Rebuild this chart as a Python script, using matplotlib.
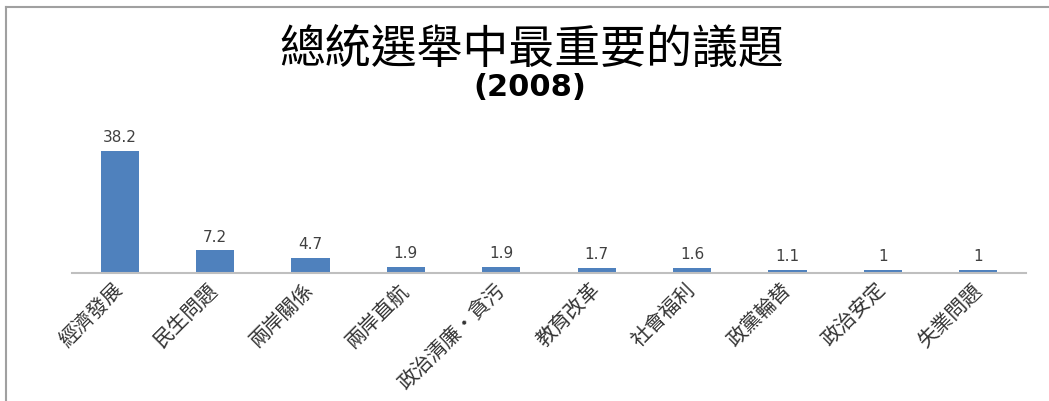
import matplotlib
matplotlib.use("Agg")
import matplotlib.pyplot as plt
from matplotlib.lines import Line2D

plt.rcParams['font.family'] = ['Noto Sans CJK TC', 'DejaVu Sans']

# data
issues = ['經濟發展', '民生問題', '兩岸關係', '兩岸直航', '政治清廉・貪污',
          '教育改革', '社會福利', '政黨輪替', '政治安定', '失業問題']
share = [38.2, 7.2, 4.7, 1.9, 1.9, 1.7, 1.6, 1.1, 1, 1]
value_labels = ['38.2', '7.2', '4.7', '1.9', '1.9', '1.7', '1.6', '1.1', '1', '1']

fig = plt.figure(figsize=(10.49, 4.01), dpi=100)
ax = fig.add_axes([72 / 1049, 0.319, 954 / 1049, 133 / 401])

x = list(range(len(issues)))
bars = ax.bar(x, share, width=0.4, color='#4f81bd', zorder=2)

for b, lab in zip(bars, value_labels):
    ax.annotate(lab, (b.get_x() + b.get_width() / 2, b.get_height()),
                xytext=(0, 4), textcoords='offset points',
                ha='center', va='bottom', fontsize=11,
                family='DejaVu Sans', color='#404040')

ax.set_xlim(-0.5, len(issues) - 0.5)
ax.set_ylim(0, 41.6)
ax.set_yticks([])
for side in ['left', 'right', 'top']:
    ax.spines[side].set_visible(False)
ax.spines['bottom'].set_color('#bfbfbf')
ax.spines['bottom'].set_linewidth(1.5)

ax.set_xticks(x)
ax.set_xticklabels(issues, rotation=45, ha='right', va='center',
                   rotation_mode='anchor', fontsize=14.5, color='#333333')
ax.tick_params(axis='x', length=0, pad=10)

# titles
fig.text(532 / 1049, 1 - 50 / 401, '總統選舉中最重要的議題', ha='center',
         va='center', fontsize=33, color='black')
fig.text(530 / 1049, 1 - 88 / 401, '(2008)', ha='center', va='center',
         fontsize=22, fontweight='bold', family='DejaVu Sans', color='black')

# chart frame (left and top edges visible)
fig.add_artist(Line2D([6 / 1049, 6 / 1049], [0, 1 - 7 / 401],
                      transform=fig.transFigure, color='#a0a0a0', lw=1.5))
fig.add_artist(Line2D([6 / 1049, 1], [1 - 7 / 401, 1 - 7 / 401],
                      transform=fig.transFigure, color='#a0a0a0', lw=1.5))

fig.savefig('out.png', dpi=100)
